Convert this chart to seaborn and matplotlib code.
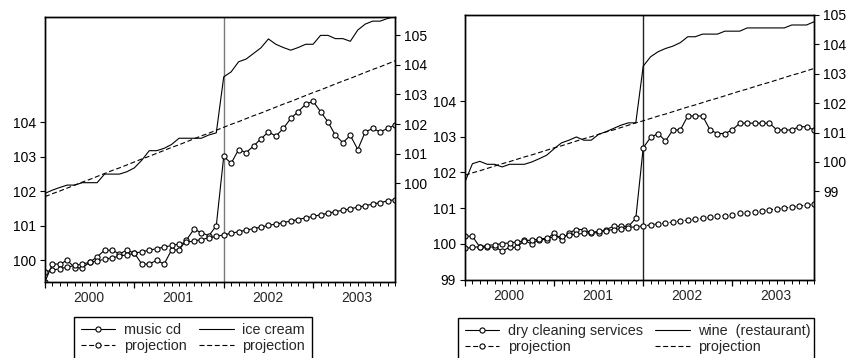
import matplotlib
matplotlib.use("Agg")
import numpy as np
import pandas as pd
import matplotlib.pyplot as plt
import seaborn as sns
from matplotlib.ticker import FixedLocator, FormatStrFormatter
from matplotlib.transforms import blended_transform_factory
from matplotlib.patches import Rectangle

# ---------------- data (monthly, Jan 2000 - Dec 2003) ----------------
years = [2000, 2001, 2002, 2003]
months_per_year = 12
break_month = 24  # January 2002

music_cd = [99.38, 99.89, 99.89, 100.00, 99.78, 99.78, 99.94, 100.10, 100.29, 100.29, 100.19, 100.29,
            100.21, 99.89, 99.89, 100.00, 99.89, 100.30, 100.30, 100.59, 100.90, 100.80, 100.71, 101.00,
            103.01, 102.81, 103.21, 103.12, 103.31, 103.52, 103.72, 103.60, 103.82, 104.11, 104.31, 104.52,
            104.61, 104.31, 104.01, 103.62, 103.41, 103.62, 103.21, 103.72, 103.82, 103.72, 103.82, 103.92]
music_cd_proj = [99.67, 99.71, 99.76, 99.80, 99.85, 99.89, 99.94, 99.98, 100.03, 100.07, 100.12, 100.16,
                 100.20, 100.25, 100.29, 100.34, 100.38, 100.43, 100.47, 100.52, 100.56, 100.60, 100.65, 100.69,
                 100.74, 100.78, 100.83, 100.87, 100.92, 100.96, 101.01, 101.05, 101.09, 101.14, 101.18, 101.23,
                 101.27, 101.32, 101.36, 101.41, 101.45, 101.49, 101.54, 101.58, 101.63, 101.67, 101.72, 101.76]
ice_cream = [99.66, 99.77, 99.86, 99.94, 99.94, 100.02, 100.02, 100.02, 100.31, 100.31, 100.31, 100.39,
             100.52, 100.78, 101.10, 101.10, 101.18, 101.31, 101.52, 101.52, 101.52, 101.52, 101.63, 101.70,
             103.59, 103.76, 104.10, 104.19, 104.38, 104.57, 104.87, 104.69, 104.58, 104.49, 104.58, 104.69,
             104.69, 104.99, 104.99, 104.88, 104.88, 104.79, 105.17, 105.37, 105.47, 105.47, 105.56, 105.62]
ice_cream_proj = [99.55, 99.65, 99.74, 99.84, 99.94, 100.04, 100.13, 100.23, 100.33, 100.43, 100.52, 100.62,
                  100.72, 100.82, 100.91, 101.01, 101.11, 101.21, 101.30, 101.40, 101.50, 101.60, 101.69, 101.79,
                  101.89, 101.99, 102.08, 102.18, 102.28, 102.37, 102.47, 102.57, 102.67, 102.76, 102.86, 102.96,
                  103.06, 103.15, 103.25, 103.35, 103.45, 103.54, 103.64, 103.74, 103.84, 103.93, 104.03, 104.13]
dry_cleaning = [100.21, 100.21, 99.91, 99.91, 99.91, 99.80, 99.90, 99.90, 100.10, 99.99, 100.12, 100.12,
                100.31, 100.10, 100.31, 100.40, 100.40, 100.31, 100.31, 100.40, 100.49, 100.49, 100.49, 100.71,
                102.69, 102.98, 103.09, 102.88, 103.19, 103.19, 103.58, 103.58, 103.58, 103.19, 103.09, 103.09,
                103.19, 103.38, 103.38, 103.38, 103.38, 103.38, 103.19, 103.19, 103.19, 103.28, 103.28, 103.19]
dry_cleaning_proj = [99.87, 99.90, 99.92, 99.95, 99.98, 100.00, 100.03, 100.05, 100.08, 100.11, 100.13, 100.16,
                     100.19, 100.21, 100.24, 100.27, 100.29, 100.32, 100.35, 100.37, 100.40, 100.42, 100.45, 100.48,
                     100.50, 100.53, 100.56, 100.58, 100.61, 100.64, 100.66, 100.69, 100.71, 100.74, 100.77, 100.79,
                     100.82, 100.85, 100.87, 100.90, 100.93, 100.95, 100.98, 101.00, 101.03, 101.06, 101.08, 101.11]
wine = [99.32, 99.94, 100.02, 99.92, 99.92, 99.83, 99.92, 99.92, 99.92, 100.00, 100.11, 100.23,
        100.45, 100.65, 100.74, 100.85, 100.74, 100.74, 100.94, 101.03, 101.14, 101.25, 101.33, 101.33,
        103.26, 103.58, 103.75, 103.86, 103.94, 104.06, 104.26, 104.26, 104.35, 104.35, 104.35, 104.45,
        104.45, 104.45, 104.56, 104.56, 104.56, 104.56, 104.56, 104.56, 104.66, 104.66, 104.66, 104.77]
wine_proj = [99.55, 99.63, 99.70, 99.78, 99.86, 99.94, 100.01, 100.09, 100.17, 100.24, 100.32, 100.40,
             100.48, 100.55, 100.63, 100.71, 100.79, 100.86, 100.94, 101.02, 101.09, 101.17, 101.25, 101.33,
             101.40, 101.48, 101.56, 101.63, 101.71, 101.79, 101.87, 101.94, 102.02, 102.10, 102.17, 102.25,
             102.33, 102.41, 102.48, 102.56, 102.64, 102.71, 102.79, 102.87, 102.95, 103.02, 103.10, 103.18]

left_labels = ["music cd", "projection", "ice cream", "projection"]
right_labels = ["dry cleaning services", "projection", "wine  (restaurant)", "projection"]

# ---------------- style ----------------
sns.set_theme(style="ticks", rc={
    "axes.edgecolor": "black", "axes.linewidth": 1.0,
    "xtick.color": "black", "ytick.color": "black",
    "xtick.direction": "out", "ytick.direction": "out",
})
plt.rcParams["font.family"] = ["Liberation Sans", "DejaVu Sans"]
plt.rcParams["lines.scale_dashes"] = False
plt.rcParams["lines.dashed_pattern"] = [3.6, 1.9]

W, H = 850, 358
fig = plt.figure(figsize=(W / 100, H / 100), dpi=100)

n = len(music_cd)
df = pd.DataFrame({
    "t": np.arange(n),
    "music_cd": music_cd, "music_cd_proj": music_cd_proj,
    "ice_cream": ice_cream, "ice_cream_proj": ice_cream_proj,
    "dry_cleaning": dry_cleaning, "dry_cleaning_proj": dry_cleaning_proj,
    "wine": wine, "wine_proj": wine_proj,
})

LW = 0.8
MK = dict(marker="o", markersize=3.7, markerfacecolor="white",
          markeredgecolor="black", markeredgewidth=0.8)


def px_rect(x0, y0, x1, y1):
    return [x0 / W, 1 - y1 / H, (x1 - x0) / W, (y1 - y0) / H]


def panel(rect, cols, labels, ylim_l, yt_l, ylim_r, yt_r, vcolor, leg_box):
    ax = fig.add_axes(px_rect(*rect))
    ax2 = ax.twinx()
    handles = []
    sns.lineplot(data=df, x="t", y=cols[0], ax=ax, color="black", lw=LW, **MK)
    handles.append(ax.get_lines()[-1])
    sns.lineplot(data=df, x="t", y=cols[1], ax=ax, color="black", lw=LW, linestyle="--", **MK)
    handles.append(ax.get_lines()[-1])
    sns.lineplot(data=df, x="t", y=cols[2], ax=ax2, color="black", lw=LW)
    handles.append(ax2.get_lines()[-1])
    sns.lineplot(data=df, x="t", y=cols[3], ax=ax2, color="black", lw=LW, linestyle="--")
    handles.append(ax2.get_lines()[-1])
    ax.axvline(break_month, color=vcolor, lw=1.0, zorder=0)

    ax.set_xlim(0, n - 1)
    ax.set_ylim(*ylim_l)
    ax2.set_ylim(*ylim_r)
    ax.set_yticks(yt_l)
    ax2.set_yticks(yt_r)
    ax.yaxis.set_major_formatter(FormatStrFormatter("%d"))
    ax2.yaxis.set_major_formatter(FormatStrFormatter("%d"))
    for a in (ax, ax2):
        a.set_xlabel("")
        a.set_ylabel("")
        a.tick_params(axis="y", length=3.6, width=0.8, labelsize=10, pad=3)
        for s in a.spines.values():
            s.set_visible(True)
            s.set_color("black")
            s.set_linewidth(1.0)
    ax.xaxis.set_major_locator(FixedLocator([k * months_per_year for k in range(len(years))]))
    ax.xaxis.set_minor_locator(FixedLocator(list(range(n))))
    ax.tick_params(axis="x", which="major", length=4.5, width=0.9, labelbottom=False)
    ax.tick_params(axis="x", which="minor", length=2.6, width=0.7)
    tr = blended_transform_factory(ax.transData, ax.transAxes)
    for k, yr in enumerate(years):
        ax.annotate(str(yr), xy=(k * months_per_year + 5.88, 0), xycoords=tr,
                    xytext=(0, -11.6), textcoords="offset points",
                    ha="center", va="center", fontsize=10)

    # legend box (its lower edge runs past the bottom of the picture)
    x0, y0, x1 = leg_box
    fig.add_artist(Rectangle((x0 / W, -0.1), (x1 - x0) / W, (1 - y0 / H) + 0.1,
                             transform=fig.transFigure, facecolor="white",
                             edgecolor="black", linewidth=1.0, zorder=5))
    leg = fig.legend(handles, labels, loc="upper left",
                     bbox_to_anchor=(x0 / W, 1 - y0 / H),
                     bbox_transform=fig.transFigure, ncol=2, frameon=False,
                     fontsize=10.4, handlelength=2.4, handletextpad=0.6,
                     columnspacing=0.85, labelspacing=0.12, borderpad=0.45,
                     borderaxespad=0, numpoints=1)
    leg.set_zorder(6)
    return ax, ax2


panel((45, 16.7, 395, 282),
      ["music_cd", "music_cd_proj", "ice_cream", "ice_cream_proj"], left_labels,
      (99.37, 107.06), [100, 101, 102, 103, 104],
      (96.67, 105.62), [100, 101, 102, 103, 104, 105],
      "#7a7a7a", (74, 317, 312))

panel((465, 15, 814, 279.5),
      ["dry_cleaning", "dry_cleaning_proj", "wine", "wine_proj"], right_labels,
      (99.0, 106.41), [99, 100, 101, 102, 103, 104],
      (96.0, 105.0), [99, 100, 101, 102, 103, 104, 105],
      "#222222", (458, 317.5, 814))

fig.savefig("out.png", dpi=100)
